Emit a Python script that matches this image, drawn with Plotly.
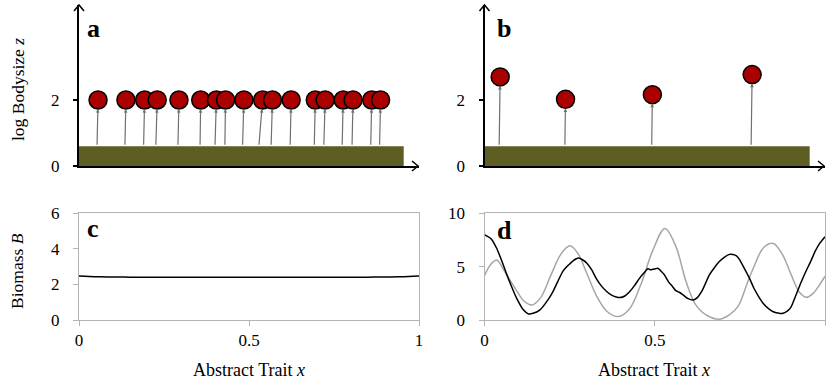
import plotly.graph_objects as go

# ---------------- data ----------------
# panel a: species trait positions (circle) and stem base positions, log body size
a_trait = [0.056, 0.138, 0.193, 0.230, 0.294, 0.358, 0.404, 0.431, 0.485, 0.540,
           0.569, 0.624, 0.695, 0.724, 0.777, 0.806, 0.861, 0.887]
a_base = [0.053, 0.135, 0.190, 0.226, 0.291, 0.356, 0.400, 0.429, 0.481, 0.529,
          0.565, 0.621, 0.692, 0.720, 0.774, 0.803, 0.858, 0.884]
a_size = [2.0] * 18

# panel b
b_trait = [0.046, 0.238, 0.493, 0.786]
b_base = [0.043, 0.236, 0.491, 0.783]
b_size = [2.70, 2.02, 2.16, 2.77]

# resource bar (level and extent in trait space)
resource_level = 0.6
resource_extent = 0.955

# panel c biomass
c_x = [0.0, 0.03, 0.06, 0.1, 0.15, 0.2, 0.3, 0.4, 0.5, 0.6, 0.7, 0.8, 0.85, 0.9, 0.94, 0.97, 1.0]
c_y = [2.48, 2.45, 2.43, 2.42, 2.41, 2.41, 2.41, 2.41, 2.41, 2.41, 2.41, 2.41, 2.41, 2.42, 2.43, 2.45, 2.48]

# panel d biomass (black) and resource (grey)
d_x = [0.0, 0.02, 0.036, 0.05, 0.065, 0.08, 0.095, 0.114, 0.129, 0.145, 0.163, 0.18, 0.2, 0.215,
       0.231, 0.245, 0.26, 0.276, 0.29, 0.3, 0.315, 0.328, 0.343, 0.358, 0.372, 0.387, 0.398,
       0.412, 0.426, 0.44, 0.455, 0.468, 0.48, 0.488, 0.494, 0.502, 0.509, 0.518, 0.528, 0.54,
       0.553, 0.562, 0.572, 0.585, 0.598, 0.613, 0.625, 0.64, 0.66, 0.675, 0.689, 0.705, 0.72,
       0.73, 0.74, 0.748, 0.762, 0.777, 0.791, 0.806, 0.82, 0.835, 0.85, 0.865, 0.877, 0.89,
       0.9, 0.913, 0.928, 0.943, 0.958, 0.972, 0.985, 1.0]
d_black = [8.0, 7.6, 6.7, 5.6, 4.3, 3.1, 2.0, 0.95, 0.57, 0.65, 0.95, 1.6, 2.6, 3.6,
           4.6, 5.1, 5.55, 5.8, 5.6, 5.35, 4.7, 3.9, 3.2, 2.7, 2.35, 2.15, 2.1,
           2.25, 2.65, 3.2, 3.9, 4.4, 4.8, 4.7, 4.75, 4.8, 4.85, 4.6, 4.25, 3.6,
           3.1, 2.75, 2.6, 2.3, 2.0, 1.88, 2.1, 2.8, 4.2, 4.9, 5.45, 5.9, 6.15,
           6.13, 6.0, 5.7, 4.9, 4.0, 3.0, 2.15, 1.5, 1.05, 0.75, 0.63, 0.63, 0.85,
           1.2, 2.2, 3.4, 4.5, 5.5, 6.5, 7.2, 7.8]
g_x = [0.0, 0.018, 0.036, 0.058, 0.095, 0.115, 0.139, 0.165, 0.195, 0.225, 0.251, 0.275,
       0.3, 0.33, 0.36, 0.393, 0.425, 0.46, 0.494, 0.53, 0.562, 0.592, 0.621, 0.655, 0.691,
       0.72, 0.745, 0.77, 0.79, 0.82, 0.848, 0.874, 0.9, 0.925, 0.945, 0.965, 0.98, 1.0]
g_y = [4.15, 5.2, 5.62, 4.6, 2.7, 1.8, 1.4, 2.1, 4.2, 6.2, 6.95, 6.2,
       4.4, 2.2, 0.8, 0.32, 1.0, 3.4, 6.5, 8.58, 6.9, 3.6, 1.4, 0.4, 0.08,
       0.5, 1.3, 3.3, 4.9, 6.8, 7.17, 6.2, 4.3, 2.6, 2.13, 2.5, 3.1, 4.1]

x_ticks = [0, 0.5, 1]
x_ticktext = ["0", "0.5", "1"]

# ---------------- layout helpers ----------------
W, H = 826, 382
FONT = "Liberation Serif"
RED = "#aa0000"
OLIVE = "#5e5d22"
BOXGREY = "#b4b4b4"


def px(x):
    return x / W


def py(y):
    return 1 - y / H


dom_top = [py(166), py(5)]
dom_bot = [py(320), py(213.3)]
dom_left = [px(79), px(419)]
dom_right = [px(484.5), px(825)]
top_max = 161 / 33.0

fig = go.Figure()

# top panels
for ax, trait, base, size in [("", a_trait, a_base, a_size), ("2", b_trait, b_base, b_size)]:
    fig.add_trace(go.Scatter(
        x=trait, y=size, mode="markers", xaxis="x" + ax, yaxis="y" + ax,
        marker=dict(size=18, color=RED, line=dict(color="black", width=1.5)),
        showlegend=False, hoverinfo="skip", cliponaxis=False))

# bottom panels
fig.add_trace(go.Scatter(x=c_x, y=c_y, mode="lines", xaxis="x3", yaxis="y3",
                         line=dict(color="black", width=1.5, shape="spline"), showlegend=False))
fig.add_trace(go.Scatter(x=g_x, y=g_y, mode="lines", xaxis="x4", yaxis="y4",
                         line=dict(color="#a6a6a6", width=1.5, shape="spline"), showlegend=False))
fig.add_trace(go.Scatter(x=d_x, y=d_black, mode="lines", xaxis="x4", yaxis="y4",
                         line=dict(color="black", width=1.5, shape="spline", smoothing=0.6),
                         showlegend=False))

tickfont = dict(family=FONT, size=17, color="black")

top_x = dict(range=[0, 1], showline=True, linecolor="black", linewidth=2, automargin=False,
             showticklabels=False, ticks="", showgrid=False, zeroline=False, fixedrange=True)
top_y = dict(range=[0, top_max], showline=True, linecolor="black", linewidth=2, automargin=False,
             tickvals=[0, 2], ticktext=["0", "2"], ticks="outside", ticklen=4, tickwidth=1.5,
             tickcolor="black", tickfont=tickfont, ticklabelstandoff=10,
             showgrid=False, zeroline=False, domain=dom_top)
bot_x = dict(range=[0, 1], showline=True, mirror=True, linecolor=BOXGREY, linewidth=1,
             automargin=False,
             tickvals=x_ticks, ticktext=x_ticktext, ticks="outside", ticklen=5,
             tickcolor=BOXGREY, tickfont=tickfont, ticklabelstandoff=0,
             showgrid=False, zeroline=False)
bot_y = dict(showline=True, mirror=True, linecolor=BOXGREY, linewidth=1, automargin=False,
             ticks="outside", ticklen=5, tickcolor=BOXGREY, tickfont=tickfont,
             ticklabelstandoff=10, showgrid=False, zeroline=False, domain=dom_bot)

fig.update_layout(
    width=W, height=H, margin=dict(l=0, r=0, t=0, b=0, autoexpand=False),
    paper_bgcolor="white", plot_bgcolor="white",
    xaxis=dict(top_x, domain=dom_left, anchor="y"),
    yaxis=dict(top_y, anchor="x"),
    xaxis2=dict(top_x, domain=dom_right, anchor="y2"),
    yaxis2=dict(top_y, anchor="x2"),
    xaxis3=dict(bot_x, domain=dom_left, anchor="y3"),
    yaxis3=dict(bot_y, range=[0, 6], tickvals=[0, 2, 4, 6], anchor="x3"),
    xaxis4=dict(bot_x, domain=dom_right, anchor="y4"),
    yaxis4=dict(bot_y, range=[0, 10], tickvals=[0, 5, 10], anchor="x4"),
)

shapes = []
annotations = []
for ax, trait, base, size, dom in [("", a_trait, a_base, a_size, dom_left),
                                   ("2", b_trait, b_base, b_size, dom_right)]:
    xr, yr = "x" + ax, "y" + ax
    shapes.append(dict(type="rect", xref=xr, yref=yr, x0=0, x1=resource_extent,
                       y0=0, y1=resource_level, fillcolor=OLIVE, line=dict(width=0), layer="below"))
    # stems: arrows from resource bar to species
    for t, b, s in zip(trait, base, size):
        annotations.append(dict(x=t, y=s, ax=b, ay=resource_level, xref=xr, yref=yr,
                                axref=xr, ayref=yr, text="", showarrow=True,
                                arrowhead=2, arrowsize=0.6, arrowwidth=1.2,
                                arrowcolor="#707070", standoff=9))
    # arrow heads on axes
    shapes.append(dict(type="path", xref="paper", yref="paper", xsizemode="pixel", ysizemode="pixel",
                       xanchor=dom[1] - 1 / W, yanchor=dom_top[0],
                       path="M -6,5 L 0,0 L -6,-5", line=dict(color="black", width=1.5)))
    shapes.append(dict(type="path", xref="paper", yref="paper", xsizemode="pixel", ysizemode="pixel",
                       xanchor=dom[0], yanchor=dom_top[1],
                       path="M -5,-6 L 0,0 L 5,-6", line=dict(color="black", width=1.5)))

labfont = dict(family=FONT, size=26, color="black")
for txt, x, y in [("a", 85, 12), ("b", 495, 12), ("c", 85, 212), ("d", 495, 214)]:
    annotations.append(dict(text="<b>%s</b>" % txt, x=px(x), y=py(y), xref="paper", yref="paper",
                            xanchor="left", yanchor="top", showarrow=False, font=labfont))

titlefont = dict(family=FONT, size=18, color="black")
annotations.append(dict(text="log Bodysize <i>z</i>", x=px(18), y=py(90), xref="paper", yref="paper",
                        xanchor="center", yanchor="middle",
                        textangle=-90, showarrow=False, font=dict(titlefont, size=17.5)))
annotations.append(dict(text="Biomass <i>B</i>", x=px(17), y=py(271), xref="paper", yref="paper",
                        xanchor="center", yanchor="middle",
                        textangle=-90, showarrow=False, font=dict(titlefont, size=17.5)))
for cx in [249, 654]:
    annotations.append(dict(text="Abstract Trait <i>x</i>", x=px(cx), y=py(370), xref="paper",
                            yref="paper", xanchor="center", yanchor="middle",
                            showarrow=False, font=titlefont))

fig.update_layout(shapes=shapes, annotations=annotations)
fig.write_html("out.html", config={"displayModeBar": False},
               post_script="document.body.style.margin='0';")
